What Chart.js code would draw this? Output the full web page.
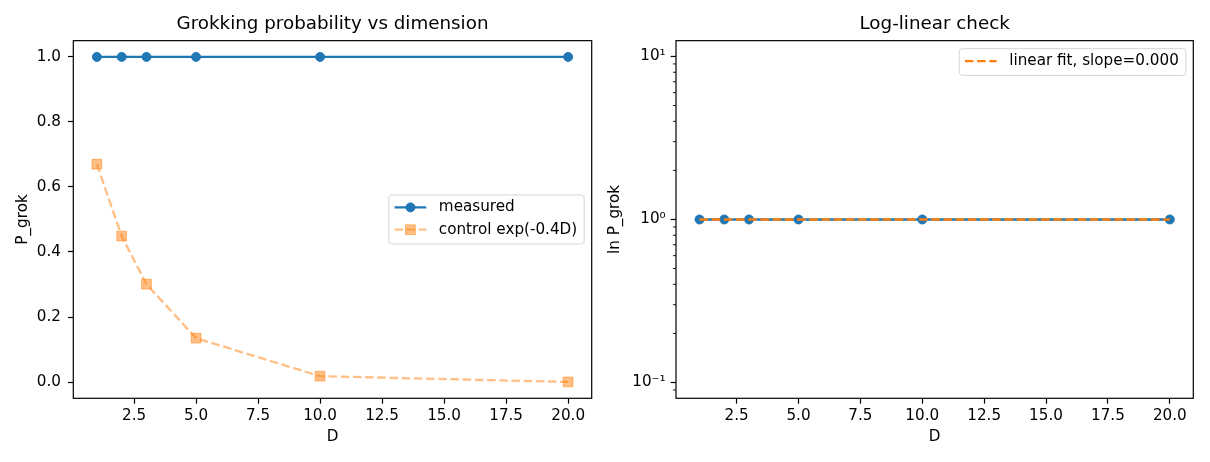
<!DOCTYPE html>
<html>
<head>
<meta charset="utf-8">
<script src="https://cdn.jsdelivr.net/npm/chart.js@4.4.0/dist/chart.umd.min.js"></script>
<style>
  html, body { margin: 0; padding: 0; background: #fff; overflow: hidden; }
  .panel { position: absolute; top: 0; height: 462px; }
  #left { left: 0; width: 600px; }
  #right { left: 600px; width: 610px; }
</style>
</head>
<body>
<div class="panel" id="left"><canvas id="grokChart"></canvas></div>
<div class="panel" id="right"><canvas id="logChart"></canvas></div>
<script>
// data
var dims = [1, 2, 3, 5, 10, 20];
var measured = [1, 1, 1, 1, 1, 1];
var control = [0.670, 0.449, 0.301, 0.135, 0.018, 0.0003];
var fitValues = [1, 1, 1, 1, 1, 1];
var xTicks = [2.5, 5, 7.5, 10, 12.5, 15, 17.5, 20];
var pTicks = [0, 0.2, 0.4, 0.6, 0.8, 1.0];
var logTicks = [0.09, 0.1, 0.2, 0.3, 0.4, 0.5, 0.6, 0.7, 0.8, 0.9, 1, 2, 3, 4, 5, 6, 7, 8, 9, 10];
var decadeLabels = { "0.1": "10\u207B\u00B9", "1": "10\u2070", "10": "10\u00B9" };

Chart.defaults.font.family = '"DejaVu Sans", sans-serif';
Chart.defaults.color = '#000';

var FS = 15.2;
var BLUE = '#1f77b4';
var ORANGE = '#ff7f0e';
var ORANGE_A = 'rgba(255,127,14,0.5)';

function pts(ys) {
  return dims.map(function (d, i) { return { x: d, y: ys[i] }; });
}

function isDecade(v) {
  var l = Math.log10(v);
  return Math.abs(l - Math.round(l)) < 1e-9;
}

// axes box drawn over the data like matplotlib spines
var frame = {
  id: 'frame',
  afterDatasetsDraw: function (chart) {
    var a = chart.chartArea, ctx = chart.ctx;
    ctx.save();
    ctx.strokeStyle = '#000';
    ctx.lineWidth = 1.2;
    ctx.strokeRect(a.left, a.top, a.right - a.left, a.bottom - a.top);
    ctx.restore();
  }
};

// major / minor tick marks on the log axis
var logTickMarks = {
  id: 'logTickMarks',
  afterDraw: function (chart) {
    var s = chart.scales.y;
    if (s.type !== 'logarithmic') return;
    var ctx = chart.ctx, a = chart.chartArea;
    ctx.save();
    ctx.strokeStyle = '#000';
    s.ticks.forEach(function (t) {
      var y = s.getPixelForValue(t.value);
      var major = isDecade(t.value);
      ctx.lineWidth = major ? 1.2 : 0.9;
      ctx.beginPath();
      ctx.moveTo(a.left, y);
      ctx.lineTo(a.left - (major ? 5.35 : 3.05), y);
      ctx.stroke();
    });
    ctx.restore();
  }
};

// matplotlib-like framed legend inside the axes
var boxLegend = {
  id: 'boxLegend',
  afterDraw: function (chart, args, opts) {
    var ctx = chart.ctx, a = chart.chartArea;
    var items = chart.data.datasets.filter(function (d) { return d.label; });
    if (!items.length) return;
    ctx.save();
    ctx.font = FS + 'px "DejaVu Sans"';
    var maxW = 0;
    items.forEach(function (d) { maxW = Math.max(maxW, ctx.measureText(d.label).width); });
    var rowH = 22.3;
    var w = 50 + maxW + 7;
    var h = items.length * rowH + 4.4;
    var x = a.right - 7.5 - w;
    var y = opts.place === 'center' ? (a.top + a.bottom) / 2 - h / 2 : a.top + 8;

    ctx.beginPath();
    ctx.roundRect(x, y, w, h, 3);
    ctx.fillStyle = 'rgba(255,255,255,0.8)';
    ctx.fill();
    ctx.strokeStyle = 'rgba(204,204,204,0.8)';
    ctx.lineWidth = 1;
    ctx.stroke();

    items.forEach(function (d, i) {
      var cy = y + 12.4 + i * rowH;
      ctx.save();
      ctx.strokeStyle = d.borderColor;
      ctx.lineWidth = d.borderWidth;
      ctx.setLineDash(d.borderDash || []);
      ctx.beginPath();
      ctx.moveTo(x + 5.7, cy);
      ctx.lineTo(x + 37.4, cy);
      ctx.stroke();
      ctx.restore();
      if (d.pointRadius > 0) {
        ctx.save();
        ctx.fillStyle = d.pointBackgroundColor;
        ctx.strokeStyle = d.pointBorderColor;
        ctx.lineWidth = d.pointBorderWidth;
        Chart.helpers.drawPoint(ctx, {
          pointStyle: d.pointStyle, radius: d.pointRadius, rotation: 0, borderWidth: d.pointBorderWidth
        }, x + 21.6, cy);
        ctx.restore();
      }
      ctx.fillStyle = '#000';
      ctx.textBaseline = 'middle';
      ctx.textAlign = 'left';
      ctx.fillText(d.label, x + 50, cy);
    });
    ctx.restore();
  }
};

function xAxis() {
  return {
    type: 'linear', min: 0.05, max: 20.95,
    afterBuildTicks: function (s) { s.ticks = xTicks.map(function (v) { return { value: v }; }); },
    afterFit: function (s) { s.height = 63.7; },
    grid: { drawOnChartArea: false, drawTicks: true, tickLength: 5.35, tickWidth: 1.2, tickColor: '#000' },
    border: { display: false },
    ticks: { font: { size: FS }, padding: 3, maxRotation: 0, autoSkip: false,
      callback: function (v) { return v.toFixed(1); } },
    title: { display: true, text: 'D', font: { size: FS }, padding: { top: 0, bottom: 15.9 } }
  };
}

function titleOpts(text) {
  return { display: true, text: text, fullSize: false, font: { size: 18.3, weight: 'normal' },
    padding: { top: 13.5, bottom: 5.2 } };
}

new Chart(document.getElementById('grokChart'), {
  type: 'line',
  data: {
    datasets: [
      {
        label: 'measured',
        data: pts(measured),
        borderColor: BLUE,
        borderWidth: 2.3,
        pointStyle: 'circle',
        pointRadius: 4.5,
        pointBorderWidth: 1,
        pointBackgroundColor: BLUE,
        pointBorderColor: BLUE,
        tension: 0,
        order: 1
      },
      {
        label: 'control exp(-0.4D)',
        data: pts(control),
        borderColor: ORANGE_A,
        borderWidth: 2.3,
        borderDash: [8.5, 3.7],
        pointStyle: 'rect',
        pointRadius: 6.9,
        pointBorderWidth: 1,
        pointBackgroundColor: ORANGE_A,
        pointBorderColor: ORANGE_A,
        tension: 0,
        order: 0
      }
    ]
  },
  options: {
    responsive: true,
    maintainAspectRatio: false,
    animation: false,
    layout: { autoPadding: false, padding: { left: 0, right: 8.3, top: 0, bottom: 0 } },
    scales: {
      x: xAxis(),
      y: {
        type: 'linear', min: -0.05, max: 1.05,
        afterBuildTicks: function (s) { s.ticks = pTicks.map(function (v) { return { value: v }; }); },
        afterFit: function (s) { s.width = 73.3; },
        grid: { drawOnChartArea: false, drawTicks: true, tickLength: 5.35, tickWidth: 1.2, tickColor: '#000' },
        border: { display: false },
        ticks: { font: { size: FS }, padding: 7, autoSkip: false,
          callback: function (v) { return v.toFixed(1); } },
        title: { display: true, text: 'P_grok', font: { size: FS }, padding: { top: 14, bottom: 0 } }
      }
    },
    plugins: {
      legend: { display: false },
      tooltip: { enabled: false },
      title: titleOpts('Grokking probability vs dimension'),
      boxLegend: { place: 'center' }
    }
  },
  plugins: [frame, boxLegend]
});

new Chart(document.getElementById('logChart'), {
  type: 'line',
  data: {
    datasets: [
      {
        data: pts(measured),
        borderColor: BLUE,
        borderWidth: 2.3,
        pointStyle: 'circle',
        pointRadius: 4.5,
        pointBorderWidth: 1,
        pointBackgroundColor: BLUE,
        pointBorderColor: BLUE,
        tension: 0,
        order: 1
      },
      {
        label: 'linear fit, slope=0.000',
        data: pts(fitValues),
        borderColor: ORANGE,
        borderWidth: 2.3,
        borderDash: [8.5, 3.7],
        pointRadius: 0,
        tension: 0,
        order: 0
      }
    ]
  },
  options: {
    responsive: true,
    maintainAspectRatio: false,
    animation: false,
    layout: { autoPadding: false, padding: { left: 0, right: 16.7, top: 0, bottom: 0 } },
    scales: {
      x: xAxis(),
      y: {
        type: 'logarithmic', min: 0.08, max: 12.5,
        afterBuildTicks: function (s) { s.ticks = logTicks.map(function (v) { return { value: v, major: isDecade(v) }; }); },
        afterFit: function (s) { s.width = 76; },
        grid: { drawOnChartArea: false, drawTicks: true, tickLength: 5.35, tickColor: 'rgba(0,0,0,0)' },
        border: { display: false },
        ticks: { font: { size: FS }, padding: 5, autoSkip: false,
          callback: function (v) { return decadeLabels[String(v)] || ''; } },
        title: { display: true, text: 'ln P_grok', font: { size: FS }, padding: { top: 5.5, bottom: 0 } }
      }
    },
    plugins: {
      legend: { display: false },
      tooltip: { enabled: false },
      title: titleOpts('Log-linear check'),
      boxLegend: { place: 'top' }
    }
  },
  plugins: [frame, logTickMarks, boxLegend]
});
</script>
</body>
</html>
